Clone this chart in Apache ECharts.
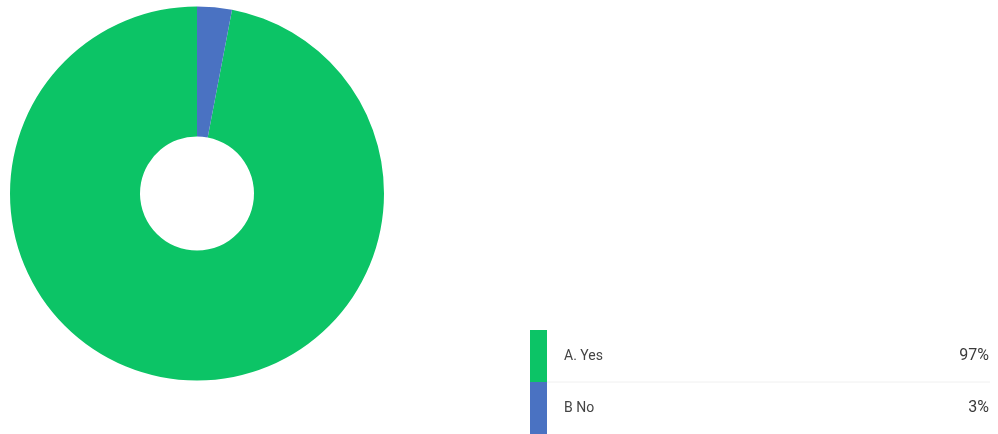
<!DOCTYPE html>
<html>
<head>
<meta charset="utf-8">
<script src="https://cdn.jsdelivr.net/npm/echarts@6/dist/echarts.min.js"></script>
<style>
  html, body { margin: 0; padding: 0; background: #fff; }
  #chart { width: 998px; height: 434px; }
</style>
</head>
<body>
<div id="chart"></div>
<script>
var categories = ['A. Yes', 'B No'];
var shares = [97, 3];
var colors = ['#0cc466', '#4a72c2'];

var chart = echarts.init(document.getElementById('chart'));

// legend table drawn at bottom right, one row per category
var rowTop = 330, rowH = 52;
var tableItems = [];
categories.forEach(function (name, i) {
    var y = rowTop + i * rowH;
    tableItems.push({
        type: 'rect',
        shape: { x: 530, y: y, width: 17, height: rowH },
        style: { fill: colors[i] }
    });
    tableItems.push({
        type: 'text',
        x: 564, y: y + rowH / 2,
        style: { text: name, fill: '#444', font: '14px Roboto', verticalAlign: 'middle' }
    });
    tableItems.push({
        type: 'text',
        x: 989, y: y + rowH / 2,
        style: { text: shares[i] + '%', fill: '#3a3a3a', font: '16px Roboto', align: 'right', verticalAlign: 'middle' }
    });
    if (i > 0) {
        tableItems.push({
            type: 'line',
            shape: { x1: 547, y1: y, x2: 990, y2: y },
            style: { stroke: '#f0f0f0', lineWidth: 1 }
        });
    }
});

var option = {
    animation: false,
    color: colors,
    series: [{
        type: 'pie',
        center: [197, 193.5],
        radius: [57, 187],
        startAngle: 90,
        clockwise: false,
        label: { show: false },
        labelLine: { show: false },
        itemStyle: { borderWidth: 0 },
        emphasis: { disabled: true },
        data: categories.map(function (c, i) {
            return { name: c, value: shares[i] };
        })
    }],
    graphic: tableItems
};
chart.setOption(option);
</script>
</body>
</html>
